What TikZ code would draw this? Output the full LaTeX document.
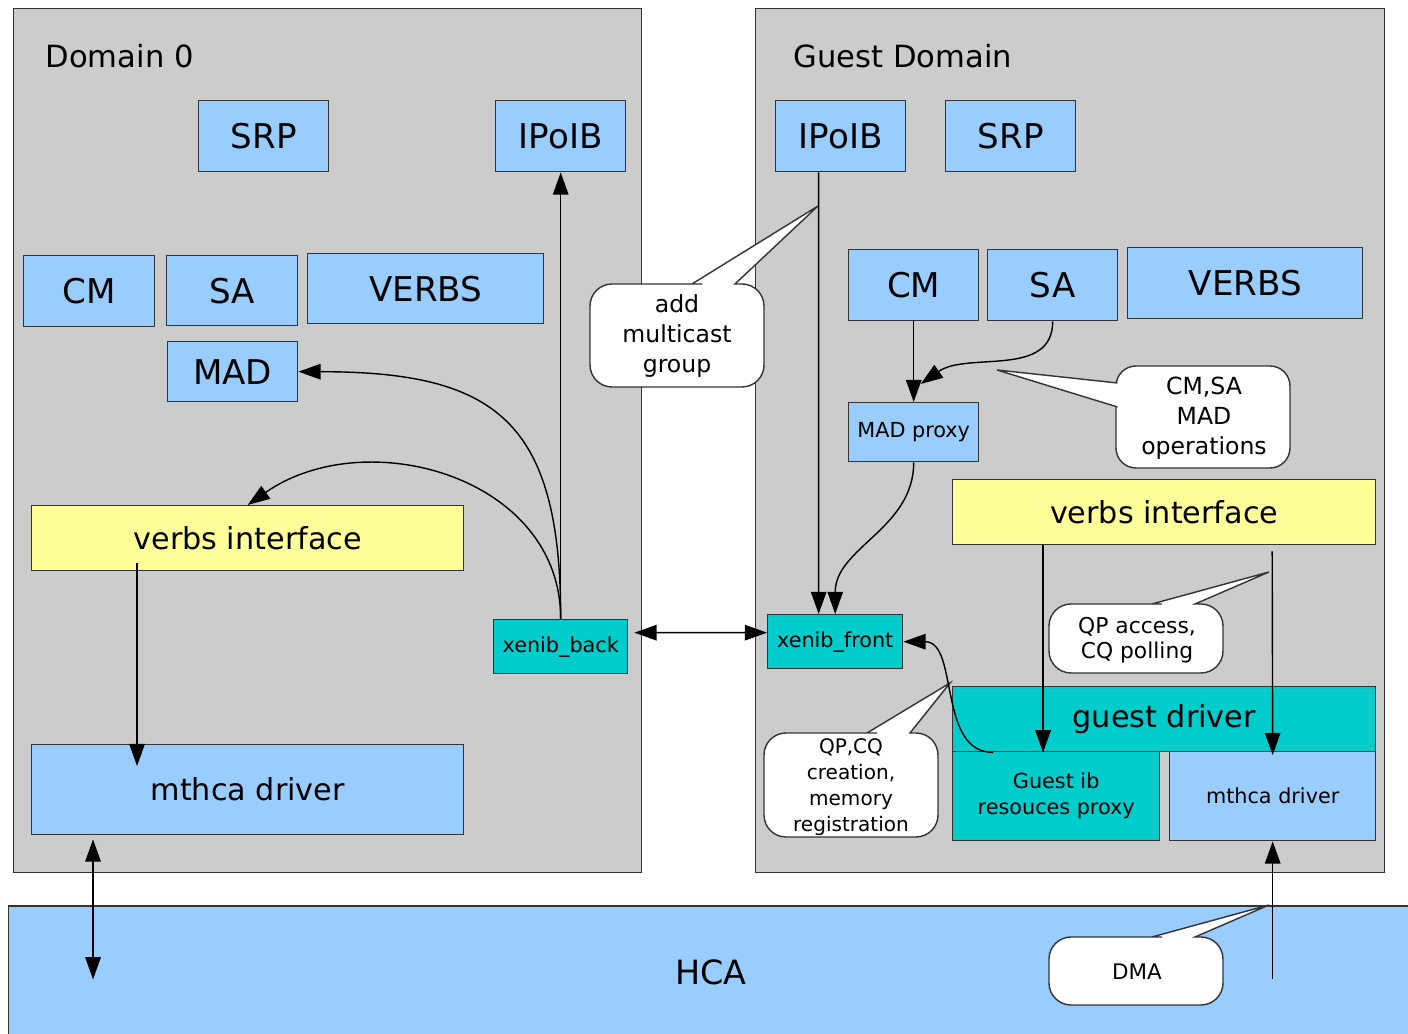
\documentclass[tikz,border=0pt]{standalone}
\usepackage{fontspec}
\setmainfont{DejaVu Sans}
\usetikzlibrary{arrows.meta}

\definecolor{panelgray}{HTML}{CCCCCC}
\definecolor{ibblue}{HTML}{99CCFF}
\definecolor{ifyellow}{HTML}{FFFF99}
\definecolor{xenteal}{HTML}{00CCCC}

\begin{document}
\begin{tikzpicture}[x=0.01cm, y=0.01cm, >={Triangle[length=6.3pt,width=4.4pt]},
  line width=0.4pt,
  wh/.style 2 args={minimum width=#1*0.01cm, minimum height=#2*0.01cm},
  blk/.style={draw=black!80, anchor=north west, inner sep=0pt, align=center},
  panel/.style={blk, fill=panelgray},
  ib/.style={blk, fill=ibblue, font=\fontsize{9.7}{11.6}\selectfont},
  iface/.style={blk, fill=ifyellow, font=\fontsize{8.6}{10.3}\selectfont},
  drv/.style={blk, fill=ibblue, font=\fontsize{8.6}{10.3}\selectfont},
  xen/.style={blk, fill=xenteal, font=\fontsize{5.9}{7.4}\selectfont},
  small/.style={blk, fill=ibblue, font=\fontsize{5.9}{7.4}\selectfont},
  note/.style={draw=black!80, fill=white},
  notetxt/.style={align=center, inner sep=0pt}]

% page and background
\useasboundingbox (0,0) rectangle (1408,-1034);
\fill[white] (0,0) rectangle (1408,-1034);

% domains and HCA
\node[panel, wh={628}{864}] (dom0) at (13,-8) {};
\node[panel, wh={629}{864}] (domu) at (755,-8) {};
\node[blk, fill=ibblue, wh={1404}{132}, anchor=north west,
  font=\fontsize{9.5}{11}\selectfont] (hca) at (8,-906) {HCA};
\node[anchor=base west, inner sep=0pt, font=\fontsize{8.7}{10}\selectfont]
  (dom0lbl) at (45,-68) {Domain 0};
\node[anchor=base west, inner sep=0pt, font=\fontsize{8.7}{10}\selectfont]
  (domulbl) at (793,-68) {Guest Domain};

% domain 0 boxes
\node[ib, wh={130}{71}] (srp0) at (198,-100) {SRP};
\node[ib, wh={130}{71}] (ipoib0) at (495,-100) {IPoIB};
\node[ib, wh={131}{71}] (cm0) at (23,-255) {CM};
\node[ib, wh={131}{70}] (sa0) at (166,-255) {SA};
\node[ib, wh={236}{70}] (verbs0) at (307,-253) {VERBS};
\node[ib, wh={130}{60}] (mad0) at (167,-341) {MAD};
\node[iface, wh={432}{65}] (vif0) at (31,-505) {verbs interface};
\node[drv, wh={432}{90}] (mthca0) at (31,-744) {mthca driver};
\node[xen, wh={134}{54}] (xback) at (493,-619) {xenib\_back};

% guest domain boxes
\node[ib, wh={130}{71}] (ipoib1) at (775,-100) {IPoIB};
\node[ib, wh={130}{71}] (srp1) at (945,-100) {SRP};
\node[ib, wh={130}{71}] (cm1) at (848,-249) {CM};
\node[ib, wh={130}{71}] (sa1) at (987,-249) {SA};
\node[ib, wh={235}{71}] (verbs1) at (1127,-247) {VERBS};
\node[small, wh={130}{59}] (madp) at (848,-402) {MAD proxy};
\node[iface, wh={423}{65}] (vif1) at (952,-479) {verbs interface};
\node[xen, wh={135}{54}] (xfront) at (767,-614) {xenib\_front};
\node[xen, wh={423}{65}, font=\fontsize{8.6}{10.3}\selectfont] (gdrv) at (952,-686) {guest driver};
\node[xen, wh={207}{89}] (gibp) at (952,-751) {Guest ib\\resouces proxy};
\node[small, wh={206}{89}] (mthca1) at (1169,-751) {mthca driver};

% HCA top edge shows through the DMA pointer
% callouts
\draw[note] (692,-284) -- (818,-206) -- (735,-284) -- (745,-284) [rounded corners=0.22cm]
  -- (764,-284) -- (764,-387) -- (590,-387) -- (590,-284) -- (680,-284) [sharp corners] -- cycle;
\node[notetxt, font=\fontsize{6.7}{8.5}\selectfont] (mcast) at (677,-336) {add\\multicast\\group};

\draw[note, rounded corners=0.2cm] (1116,-366) rectangle (1290,-468);
\draw[note] (1117.5,-383) -- (997,-370) -- (1117.5,-407);
\node[notetxt, font=\fontsize{6.7}{8.5}\selectfont] (madops) at (1204,-418) {CM,SA\\MAD\\operations};

\draw[note] (1152,-604) -- (1269,-572) -- (1195,-604) -- (1200,-604) [rounded corners=0.22cm]
  -- (1223,-604) -- (1223,-673) -- (1049,-673) -- (1049,-604) -- (1140,-604) [sharp corners] -- cycle;
\node[notetxt, font=\fontsize{6.2}{7.1}\selectfont] (qpacc) at (1137,-640) {QP access,\\CQ polling};

\draw[note] (1152,-937) -- (1269,-905) -- (1195,-937) -- (1200,-937) [rounded corners=0.22cm]
  -- (1223,-937) -- (1223,-1005) -- (1049,-1005) -- (1049,-937) -- (1140,-937) [sharp corners] -- cycle;
\node[notetxt, font=\fontsize{6.1}{7.1}\selectfont] (dma) at (1137,-972) {DMA};
\draw[draw=black!80] (hca.north west) -- (hca.north east);

\draw[note] (867,-733) -- (950,-683) -- (910,-733) -- (915,-733) [rounded corners=0.22cm]
  -- (938,-733) -- (938,-837) -- (764,-837) -- (764,-733) -- (855,-733) [sharp corners] -- cycle;
\node[notetxt, font=\fontsize{5.7}{7.4}\selectfont] (qpcq) at (851,-787) {QP,CQ\\creation,\\memory\\registration};

% domain 0 arrows
\draw[->] (xback.north) -- (ipoib0.south);
\draw[->] (xback.north) to[out=90, in=0, looseness=1.4] (mad0.east);
\draw[->] (xback.north) to[out=90, in=35, looseness=1.1] (vif0.north);
\draw[->] ([xshift=1.06cm, yshift=0.08cm]vif0.south west) -- ([xshift=1.06cm, yshift=-0.22cm]mthca0.north west);
\draw[<->] ([xshift=0.62cm, yshift=-0.04cm]mthca0.south west) -- ++(0,-140);
\draw[<->] ([xshift=0.06cm, yshift=0.14cm]xback.east) -- ([yshift=0.09cm]xfront.west);

% guest domain arrows
\draw[->] ([xshift=-0.22cm]ipoib1.south) -- ([xshift=-0.165cm]xfront.north);
\draw[->] (cm1.south) -- (madp.north);
\draw[->] (sa1.south) to[out=-90, in=35] ([xshift=0.07cm, yshift=0.18cm]madp.north);
\draw[->] (madp.south) to[out=-90, in=90] (xfront.north);
\draw[->] ([xshift=0.91cm]vif1.south west) -- ([xshift=0.91cm]gdrv.south west);
\draw[->] ([xshift=3.2cm, yshift=-0.06cm]vif1.south west) -- ([yshift=-0.04cm]mthca1.north);
\draw[->] ([xshift=0.41cm]gdrv.south west) to[out=180, in=0] (xfront.east);
\draw[<-] (mthca1.south) -- ++(0,-138);

\end{tikzpicture}
\end{document}
